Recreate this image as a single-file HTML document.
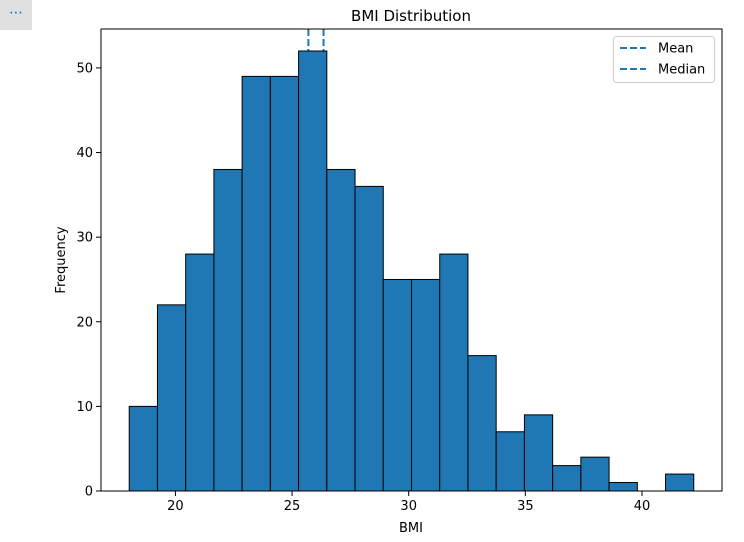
<!DOCTYPE html>
<html><head><meta charset="utf-8"><style>
body{margin:0;background:#fff;font-family:"DejaVu Sans","Liberation Sans",sans-serif;}
#wrap{position:relative;width:744px;height:542px;}
#menu{position:absolute;left:0;top:0;width:32px;height:30px;background:#e0e0e0;color:#1f5fa8;font-size:14px;text-align:center;line-height:26px;}
</style></head><body>
<div id="wrap">
<div id="menu">⋯</div>
<svg id="svg" width="744" height="542" style="position:absolute;left:0;top:0"></svg>
</div>
<script>
const counts=[10,22,28,38,49,49,52,38,36,25,25,28,16,7,9,3,4,1,0,2];
const binStart=18.02, binEnd=42.22;
const meanVal=25.7, medianVal=26.35;
const xTicks=[20,25,30,35,40];
const yTicks=[0,10,20,30,40,50];
const L=101,R=722,T=29,B=491;
const xmin=16.81,xmax=43.43,ymax=54.6;
const X=v=>L+(v-xmin)/(xmax-xmin)*(R-L);
const Y=v=>B-v/ymax*(B-T);
const svg=document.getElementById('svg');const NS='http://www.w3.org/2000/svg';
function mk(t,a,txt){const e=document.createElementNS(NS,t);for(const k in a)e.setAttribute(k,a[k]);if(txt!=null)e.textContent=txt;svg.appendChild(e);return e;}
[meanVal,medianVal].forEach((v,i)=>{const e=mk('line',{x1:X(v),x2:X(v),y1:T,y2:B,stroke:'#1f77b4','stroke-width':2,'stroke-dasharray':'7,3'});

});
const w=(binEnd-binStart)/counts.length;
counts.forEach((c,i)=>{const x0=X(binStart+i*w),x1=X(binStart+(i+1)*w);
const r=mk('rect',{x:x0,y:Y(c),width:x1-x0,height:B-Y(c),fill:'#1f77b4',stroke:'#000','stroke-width':1});

});
mk('rect',{x:L,y:T,width:R-L,height:B-T,fill:'none',stroke:'#000','stroke-width':1});
xTicks.forEach(v=>{mk('line',{x1:X(v),x2:X(v),y1:B,y2:B+5,stroke:'#000'});
const t=mk('text',{x:X(v),y:B+19,'text-anchor':'middle','font-size':13},v);

});
yTicks.forEach(v=>{mk('line',{x1:L-5,x2:L,y1:Y(v),y2:Y(v),stroke:'#000'});
const t=mk('text',{x:L-8,y:Y(v)+4.5,'text-anchor':'end','font-size':13},v);

});
const tt=mk('text',{x:411,y:21,'text-anchor':'middle','font-size':15},'BMI Distribution');

const xl=mk('text',{x:411,y:532,'text-anchor':'middle','font-size':13},'BMI');

const yl=mk('text',{x:65,y:260,'text-anchor':'middle','font-size':13,transform:'rotate(-90 65 260)'},'Frequency');

const lg=mk('rect',{x:613.5,y:36.5,width:101,height:46,rx:3,fill:'#fff',stroke:'#ccc'});

['Mean','Median'].forEach((s,i)=>{const y=48+i*21;
mk('line',{x1:620,x2:646,y1:y,y2:y,stroke:'#1f77b4','stroke-width':2,'stroke-dasharray':'7,3'});
const t=mk('text',{x:658,y:y+4.5,'font-size':13},s);

});
</script>
</body></html>
